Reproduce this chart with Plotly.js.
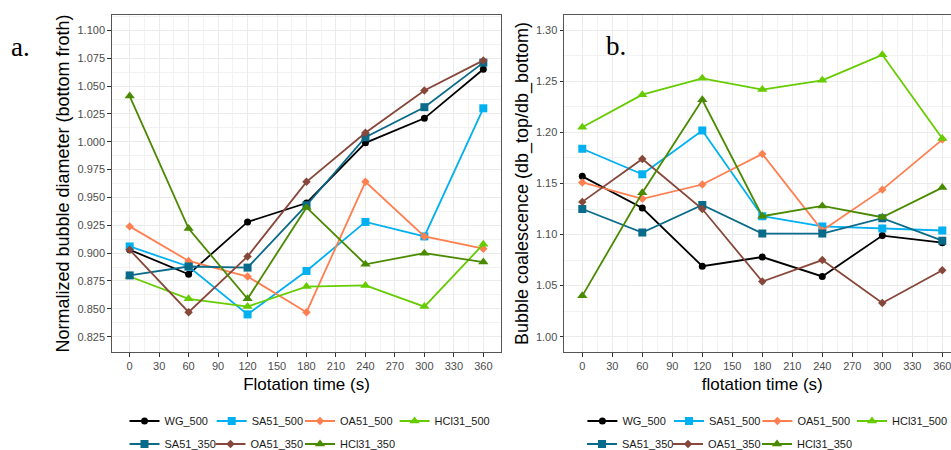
<!DOCTYPE html>
<html><head><meta charset="utf-8">
<script src="https://cdn.plot.ly/plotly-3.0.1.min.js"></script>
<style>html,body{margin:0;padding:0;overflow:hidden;background:#fff}#chart{width:961px;height:450px}</style>
</head><body><div id="chart"></div>
<script>
// ---- data ----
const times = [0, 60, 120, 180, 240, 300, 360];
const xTicks = [0, 30, 60, 90, 120, 150, 180, 210, 240, 270, 300, 330, 360];
const yTicksA = [0.825, 0.850, 0.875, 0.900, 0.925, 0.950, 0.975, 1.000, 1.025, 1.050, 1.075, 1.100];
const yTicksB = [1.00, 1.05, 1.10, 1.15, 1.20, 1.25, 1.30];
const seriesNames = ['WG_500', 'SA51_500', 'OA51_500', 'HCl31_500', 'SA51_350', 'OA51_350', 'HCl31_350'];

// panel a: normalized bubble diameter (bottom froth)
const a_WG_500    = [0.903, 0.881, 0.928, 0.945, 0.999, 1.021, 1.065];
const a_SA51_500  = [0.906, 0.888, 0.845, 0.884, 0.928, 0.915, 1.030];
const a_OA51_500  = [0.924, 0.893, 0.879, 0.847, 0.964, 0.915, 0.904];
const a_HCl31_500 = [0.879, 0.859, 0.852, 0.870, 0.871, 0.852, 0.908];
const a_SA51_350  = [0.880, 0.888, 0.887, 0.943, 1.004, 1.031, 1.071];
const a_OA51_350  = [0.903, 0.847, 0.897, 0.964, 1.008, 1.046, 1.073];
const a_HCl31_350 = [1.041, 0.922, 0.859, 0.941, 0.890, 0.900, 0.892];

// panel b: bubble coalescence (db_top/db_bottom)
const b_WG_500    = [1.157, 1.126, 1.069, 1.078, 1.059, 1.099, 1.092];
const b_SA51_500  = [1.184, 1.159, 1.202, 1.118, 1.108, 1.106, 1.104];
const b_OA51_500  = [1.151, 1.135, 1.149, 1.179, 1.104, 1.144, 1.193];
const b_HCl31_500 = [1.205, 1.237, 1.253, 1.242, 1.251, 1.276, 1.194];
const b_SA51_350  = [1.125, 1.102, 1.129, 1.101, 1.101, 1.116, 1.094];
const b_OA51_350  = [1.132, 1.174, 1.125, 1.054, 1.075, 1.033, 1.065];
const b_HCl31_350 = [1.040, 1.141, 1.232, 1.118, 1.128, 1.117, 1.146];

const panelA = [a_WG_500, a_SA51_500, a_OA51_500, a_HCl31_500, a_SA51_350, a_OA51_350, a_HCl31_350];
const panelB = [b_WG_500, b_SA51_500, b_OA51_500, b_HCl31_500, b_SA51_350, b_OA51_350, b_HCl31_350];

// ---- styles ----
const colors  = ['#000000', '#00B0F0', '#FF7F50', '#66CC00', '#0A6A8A', '#87473A', '#4A8A00'];
const symbols = ['circle', 'square', 'diamond', 'triangle-up', 'square', 'diamond', 'triangle-up'];
const sizes   = [7, 8, 6.5, 9, 8, 6.5, 9];

const W = 961, H = 450;
const px = v => v / W, py = v => 1 - v / H;

// legend key centres (pixels) for each series, per panel
const legKeyXA = [144.5, 231.7, 320, 414.6, 144.5, 230.5, 320];
const legKeyXB = [602.4, 689, 777.4, 872, 602, 688, 777];
const legRowY  = [421, 444];

const traces = [];
const legends = {};
let legCount = 0;
function legFor(xpix, ypix) {
  legCount += 1;
  const id = legCount === 1 ? 'legend' : 'legend' + legCount;
  legends[id] = {
    orientation: 'h', x: px(xpix - 20), xanchor: 'left', y: py(ypix), yanchor: 'middle',
    bgcolor: 'rgba(0,0,0,0)', borderwidth: 0,
    font: {family: 'Liberation Sans, Arial, sans-serif', size: 11, color: '#1A1A1A'}
  };
  return id;
}
function addPanel(data, xa, ya, keyX) {
  data.forEach((vals, i) => {
    traces.push({
      type: 'scatter', mode: 'lines+markers',
      x: times, y: vals, name: seriesNames[i],
      xaxis: xa, yaxis: ya,
      legend: legFor(keyX[i], legRowY[i < 4 ? 0 : 1]),
      line: {color: colors[i], width: 1.8},
      marker: {color: colors[i], symbol: symbols[i], size: sizes[i]},
      hoverinfo: 'x+y+name'
    });
  });
}
addPanel(panelA, 'x', 'y', legKeyXA);
addPanel(panelB, 'x2', 'y2', legKeyXB);

const tickFont = {family: 'Liberation Sans, Arial, sans-serif', size: 11, color: '#4D4D4D'};
const xTitleFont = {family: 'Liberation Sans, Arial, sans-serif', size: 17, color: '#000000'};
const yTitleFont = {family: 'Liberation Sans, Arial, sans-serif', size: 18, color: '#000000'};
function axBase() {
  return {
    showline: true, mirror: true, linecolor: '#555555', linewidth: 1.3,
    showgrid: true, gridcolor: '#EBEBEB', gridwidth: 1, zeroline: false,
    ticks: 'outside', ticklen: 3.5, tickwidth: 1, tickcolor: '#333333',
    tickfont: tickFont, automargin: false
  };
}
const yDom = [py(352), py(15)];
const minorX = {tickvals: xTicks.slice(0, -1).map(t => t + 15), showgrid: true, gridcolor: '#F2F2F2', gridwidth: 1, ticks: ''};

const xA = Object.assign(axBase(), {
  domain: [px(112), px(501)], anchor: 'y', range: [-18, 378],
  tickvals: xTicks, ticktext: xTicks.map(String), minor: minorX,
  title: {text: 'Flotation time (s)', font: xTitleFont, standoff: 7}
});
const yA = Object.assign(axBase(), {
  domain: yDom, anchor: 'x', range: [0.81125, 1.11375],
  tickvals: yTicksA, ticktext: yTicksA.map(v => v.toFixed(3)),
  minor: {tickvals: yTicksA.map(t => t + 0.0125), showgrid: true, gridcolor: '#F2F2F2', gridwidth: 1, ticks: ''},
  title: {text: 'Normalized bubble diameter (bottom froth)', font: yTitleFont, standoff: 3}
});
const xB = Object.assign(axBase(), {
  domain: [px(564.3), px(960.3)], anchor: 'y2', range: [-18, 378],
  tickvals: xTicks, ticktext: xTicks.map(String), minor: minorX,
  title: {text: 'flotation time (s)', font: xTitleFont, standoff: 7}
});
const yB = Object.assign(axBase(), {
  domain: yDom, anchor: 'x2', range: [0.985, 1.315],
  tickvals: yTicksB, ticktext: yTicksB.map(v => v.toFixed(2)),
  minor: {tickvals: yTicksB.map(t => t + 0.025), showgrid: true, gridcolor: '#F2F2F2', gridwidth: 1, ticks: ''},
  title: {text: 'Bubble coalescence (db_top/db_bottom)', font: yTitleFont, standoff: 2}
});

const layout = Object.assign({
  width: W, height: H,
  margin: {l: 0, r: 0, t: 0, b: 0, pad: 0, autoexpand: false},
  paper_bgcolor: '#ffffff', plot_bgcolor: '#ffffff',
  xaxis: xA, yaxis: yA, xaxis2: xB, yaxis2: yB,
  annotations: [
    {text: 'a.', xref: 'paper', yref: 'paper', x: px(20), y: py(47), xanchor: 'center', yanchor: 'middle',
     showarrow: false, font: {family: 'Liberation Serif, Times New Roman, serif', size: 27, color: '#000'}},
    {text: 'b.', xref: 'paper', yref: 'paper', x: px(616), y: py(46), xanchor: 'center', yanchor: 'middle',
     showarrow: false, font: {family: 'Liberation Serif, Times New Roman, serif', size: 27, color: '#000'}}
  ],
  showlegend: true
}, legends);

Plotly.newPlot('chart', traces, layout, {displayModeBar: false, staticPlot: true});
</script>
</body></html>
